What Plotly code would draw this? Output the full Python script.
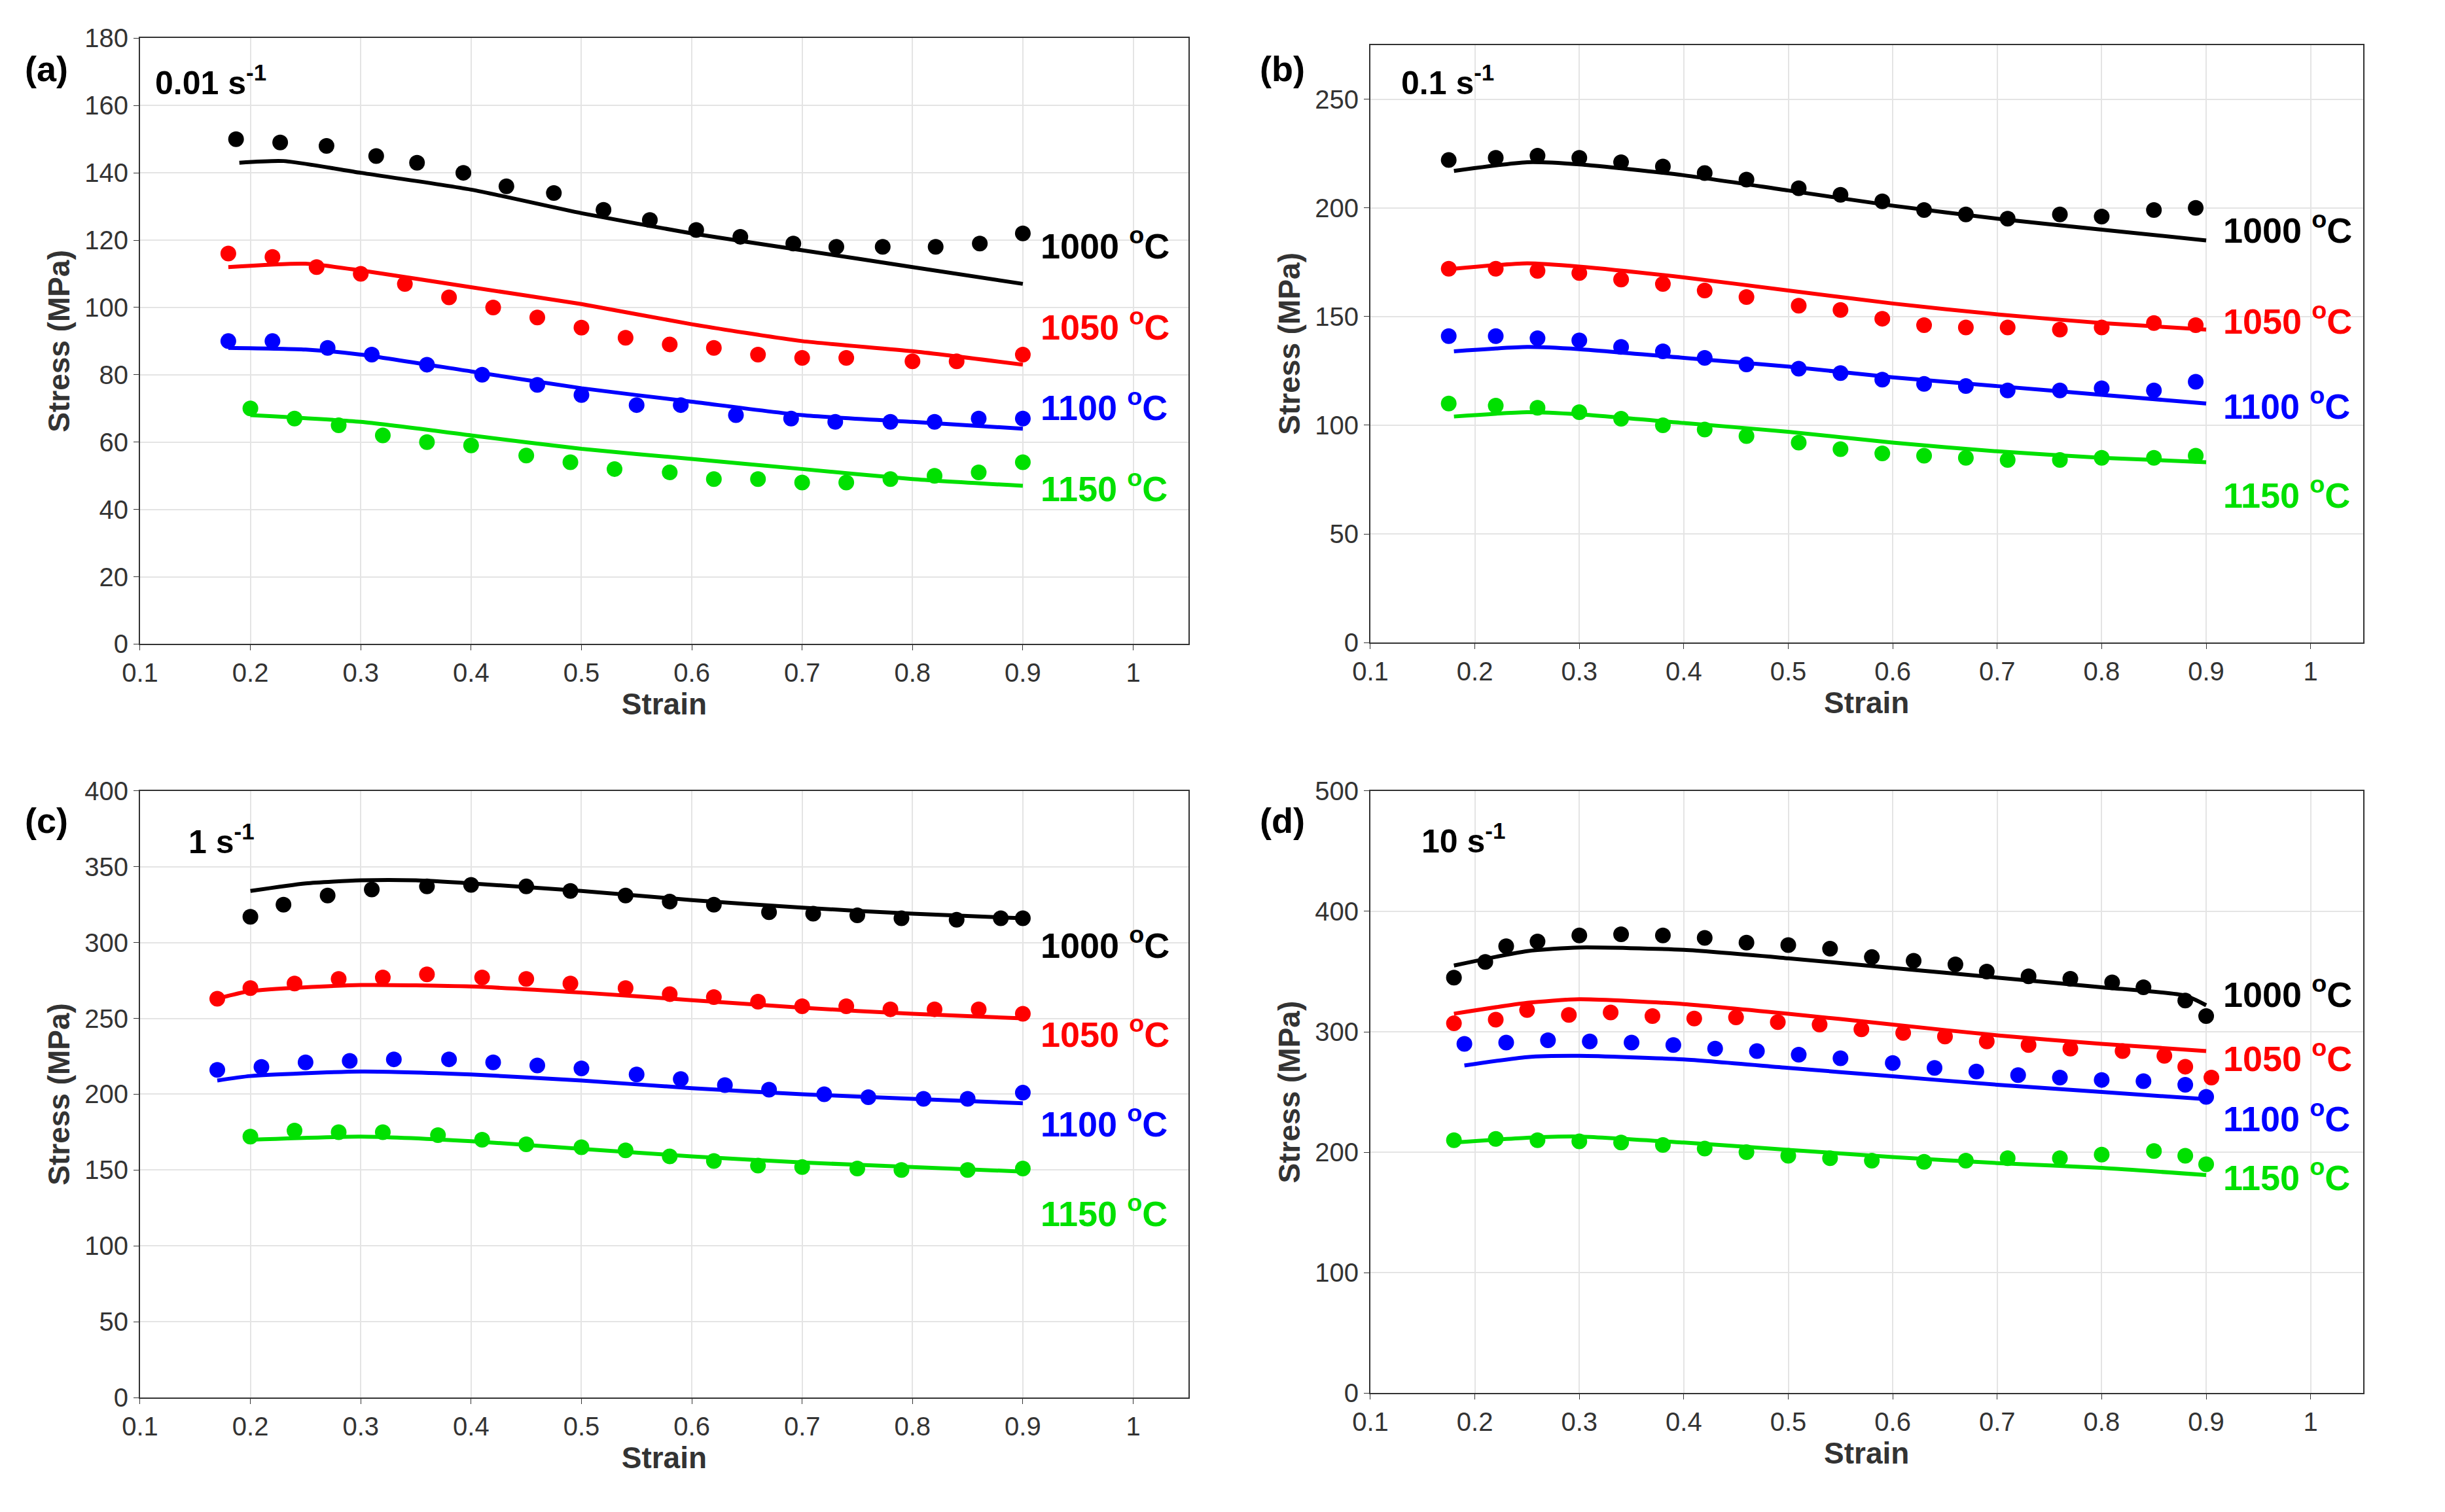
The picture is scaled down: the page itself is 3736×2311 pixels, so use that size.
import plotly.graph_objects as go

colors = {"1000": "black", "1050": "#ff0000", "1100": "#0000ff", "1150": "#00e000"}
temps = ["1000", "1050", "1100", "1150"]

# panel a (0.01 s^-1)
a_px = {"1000": [0.187,0.227,0.269,0.314,0.351,0.393,0.432,0.475,0.520,0.562,0.604,0.644,0.692,0.731,0.773,0.821,0.861,0.9],
        "1050": [0.18,0.22,0.26,0.3,0.34,0.38,0.42,0.46,0.5,0.54,0.58,0.62,0.66,0.7,0.74,0.8,0.84,0.9],
        "1100": [0.18,0.22,0.27,0.31,0.36,0.41,0.46,0.5,0.55,0.59,0.64,0.69,0.73,0.78,0.82,0.86,0.9],
        "1150": [0.2,0.24,0.28,0.32,0.36,0.4,0.45,0.49,0.53,0.58,0.62,0.66,0.7,0.74,0.78,0.82,0.86,0.9]}
a_py = {"1000": [150,149,148,145,143,140,136,134,129,126,123,121,119,118,118,118,119,122],
        "1050": [116,115,112,110,107,103,100,97,94,91,89,88,86,85,85,84,84,86],
        "1100": [90,90,88,86,83,80,77,74,71,71,68,67,66,66,66,67,67],
        "1150": [70,67,65,62,60,59,56,54,52,51,49,49,48,48,49,50,51,54]}
a_lx = {"1000": [0.19,0.23,0.3,0.4,0.5,0.6,0.7,0.8,0.9],
        "1050": [0.18,0.25,0.3,0.4,0.5,0.6,0.7,0.8,0.9],
        "1100": [0.18,0.25,0.3,0.4,0.5,0.6,0.7,0.8,0.9],
        "1150": [0.2,0.3,0.4,0.5,0.6,0.7,0.8,0.9]}
a_ly = {"1000": [143,143.5,140,135,128,122,117,112,107],
        "1050": [112,113,111,106,101,95,90,87,83],
        "1100": [88,87.5,86,81,76,72,68,66,64],
        "1150": [68,66,62,58,55,52,49,47]}

# panel b (0.1 s^-1)
b_x = [0.175,0.22,0.26,0.3,0.34,0.38,0.42,0.46,0.51,0.55,0.59,0.63,0.67,0.71,0.76,0.8,0.85,0.89]
b_px = {t: b_x for t in temps}
b_py = {"1000": [222,223,224,223,221,219,216,213,209,206,203,199,197,195,197,196,199,200],
        "1050": [172,172,171,170,167,165,162,159,155,153,149,146,145,145,144,145,147,146],
        "1100": [141,141,140,139,136,134,131,128,126,124,121,119,118,116,116,117,116,120],
        "1150": [110,109,108,106,103,100,98,95,92,89,87,86,85,84,84,85,85,86]}
b_lxs = [0.18,0.25,0.3,0.4,0.5,0.6,0.7,0.8,0.9]
b_lx = {t: b_lxs for t in temps}
b_ly = {"1000": [217,221,220,215,208,201,195,190,185],
        "1050": [172,174.5,173,168,162,156,151,147,144],
        "1100": [134,136,135,131,127,122,118,114,110],
        "1150": [104,106,105,101,97,92,88,85,83]}

# panel c (1 s^-1)
c_px = {"1000": [0.2,0.23,0.27,0.31,0.36,0.4,0.45,0.49,0.54,0.58,0.62,0.67,0.71,0.75,0.79,0.84,0.88,0.9],
        "1050": [0.17,0.2,0.24,0.28,0.32,0.36,0.41,0.45,0.49,0.54,0.58,0.62,0.66,0.7,0.74,0.78,0.82,0.86,0.9],
        "1100": [0.17,0.21,0.25,0.29,0.33,0.38,0.42,0.46,0.5,0.55,0.59,0.63,0.67,0.72,0.76,0.81,0.85,0.9],
        "1150": [0.2,0.24,0.28,0.32,0.37,0.41,0.45,0.5,0.54,0.58,0.62,0.66,0.7,0.75,0.79,0.85,0.9]}
c_py = {"1000": [317,325,331,335,337,338,337,334,331,327,325,320,319,318,316,315,316,316],
        "1050": [263,270,273,276,277,279,277,276,273,270,266,264,261,258,258,256,256,256,253],
        "1100": [216,218,221,222,223,223,221,219,217,213,210,206,203,200,198,197,197,201],
        "1150": [172,176,175,175,173,170,167,165,163,159,156,153,152,151,150,150,151]}
c_lx = {"1000": [0.2,0.25,0.3,0.35,0.4,0.5,0.6,0.7,0.8,0.9],
        "1050": [0.17,0.2,0.3,0.4,0.5,0.6,0.7,0.8,0.9],
        "1100": [0.17,0.2,0.3,0.4,0.5,0.6,0.7,0.8,0.9],
        "1150": [0.2,0.3,0.4,0.5,0.6,0.7,0.8,0.9]}
c_ly = {"1000": [334,339,341,341,339,334,328,323,319,316],
        "1050": [263,268,272,271,267,262,257,253,250],
        "1100": [209,212,215,213,209,204,200,197,194],
        "1150": [170,172,169,164,159,155,152,149]}

# panel d (10 s^-1)
d_px = {"1000": [0.18,0.21,0.23,0.26,0.3,0.34,0.38,0.42,0.46,0.5,0.54,0.58,0.62,0.66,0.69,0.73,0.77,0.81,0.84,0.88,0.9],
        "1050": [0.18,0.22,0.25,0.29,0.33,0.37,0.41,0.45,0.49,0.53,0.57,0.61,0.65,0.69,0.73,0.77,0.82,0.86,0.88,0.905],
        "1100": [0.19,0.23,0.27,0.31,0.35,0.39,0.43,0.47,0.51,0.55,0.6,0.64,0.68,0.72,0.76,0.8,0.84,0.88,0.9],
        "1150": [0.18,0.22,0.26,0.3,0.34,0.38,0.42,0.46,0.5,0.54,0.58,0.63,0.67,0.71,0.76,0.8,0.85,0.88,0.9]}
d_py = {"1000": [345,358,371,375,380,381,380,378,374,372,369,362,359,356,350,346,344,341,337,326,313],
        "1050": [307,310,318,314,316,313,311,312,308,306,302,299,296,292,289,286,284,280,271,262],
        "1100": [290,291,293,292,291,289,286,284,281,278,274,270,267,264,262,260,259,256,246],
        "1150": [210,211,210,209,208,206,203,200,197,195,193,192,193,195,195,198,201,197,190]}
d_lx = {"1000": [0.18,0.25,0.3,0.4,0.5,0.6,0.7,0.8,0.88,0.9],
        "1050": [0.18,0.25,0.3,0.4,0.5,0.6,0.7,0.8,0.9],
        "1100": [0.19,0.25,0.3,0.4,0.5,0.6,0.7,0.8,0.9],
        "1150": [0.18,0.25,0.3,0.4,0.5,0.6,0.7,0.8,0.9]}
d_ly = {"1000": [355,367,370,368,361,353,345,337,330,322],
        "1050": [315,324,327,323,315,306,297,290,284],
        "1100": [272,279,280,277,270,263,256,250,244],
        "1150": [208,212,213,208,202,196,191,187,181]}

panels = [
    dict(px=a_px, py=a_py, lx=a_lx, ly=a_ly, yr=[0,180], dt=20, lab="(a)", rate="0.01 s<sup>-1</sup>",
         ty=[119,95,71,47], dom=([0.048,0.480],[0.579,0.9875]), lp=(0.0,0.967), rp=(0.013,0.93)),
    dict(px=b_px, py=b_py, lx=b_lx, ly=b_ly, yr=[0,275], dt=50, lab="(b)", rate="0.1 s<sup>-1</sup>",
         ty=[191,149,110,69], dom=([0.555,0.964],[0.58,0.983]), lp=(0.509,0.967), rp=(0.03,0.94)),
    dict(px=c_px, py=c_py, lx=c_lx, ly=c_ly, yr=[0,400], dt=50, lab="(c)", rate="1 s<sup>-1</sup>",
         ty=[300,241,182,123], dom=([0.048,0.480],[0.071,0.480]), lp=(0.0,0.46), rp=(0.045,0.92)),
    dict(px=d_px, py=d_py, lx=d_lx, ly=d_ly, yr=[0,500], dt=100, lab="(d)", rate="10 s<sup>-1</sup>",
         ty=[333,280,230,181], dom=([0.555,0.964],[0.074,0.480]), lp=(0.509,0.46), rp=(0.05,0.92)),
]

fig = go.Figure()
FONT = "Liberation Sans, Arial"
ann = []
for i, p in enumerate(panels, start=1):
    xa = "x" if i == 1 else f"x{i}"
    ya = "y" if i == 1 else f"y{i}"
    for t in temps:
        fig.add_trace(go.Scatter(x=p["lx"][t], y=p["ly"][t], mode="lines",
                                 line=dict(color=colors[t], width=6, shape="spline", smoothing=0.6),
                                 xaxis=xa, yaxis=ya, showlegend=False))
        fig.add_trace(go.Scatter(x=p["px"][t], y=p["py"][t], mode="markers", marker=dict(color=colors[t], size=24),
                                 xaxis=xa, yaxis=ya, showlegend=False))
    for t, yv in zip(temps, p["ty"]):
        ann.append(dict(x=0.915, y=yv, xref=xa, yref=ya, text=f"{t} <sup>o</sup>C", showarrow=False,
                        xanchor="left", yanchor="middle", font=dict(family=FONT, size=54, color=colors[t], weight="bold")))
    ann.append(dict(x=p["rp"][0], y=p["rp"][1], xref=f"{xa} domain", yref=f"{ya} domain", text=p["rate"], showarrow=False,
                    xanchor="left", yanchor="middle", font=dict(family=FONT, size=50, color="black", weight="bold")))
    ann.append(dict(x=p["lp"][0], y=p["lp"][1], xref="paper", yref="paper", text=p["lab"], showarrow=False,
                    xanchor="left", yanchor="middle", font=dict(family=FONT, size=54, color="black", weight="bold")))
    axkw = dict(showgrid=True, gridcolor="#e4e4e4", gridwidth=2, showline=True, linecolor="#333", linewidth=2,
                mirror=True, ticks="outside", ticklen=8, tickcolor="#333",
                tickfont=dict(family=FONT, size=40, color="#333"), zeroline=False)
    fig.update_layout(**{
        ("xaxis" if i == 1 else f"xaxis{i}"): dict(domain=p["dom"][0], range=[0.1, 1.05],
            anchor=ya, title=dict(text="<b>Strain</b>", font=dict(family=FONT, size=46, color="#333"), standoff=10),
            tickvals=[0.1,0.2,0.3,0.4,0.5,0.6,0.7,0.8,0.9,1.0], ticktext=["0.1","0.2","0.3","0.4","0.5","0.6","0.7","0.8","0.9","1"], **axkw),
        ("yaxis" if i == 1 else f"yaxis{i}"): dict(domain=p["dom"][1], range=p["yr"], dtick=p["dt"], anchor=xa,
            title=dict(text="<b>Stress (MPa)</b>", font=dict(family=FONT, size=46, color="#333"), standoff=8), **axkw),
    })

fig.update_layout(width=3736, height=2311, paper_bgcolor="white", plot_bgcolor="white",
                  margin=dict(l=0, r=0, t=0, b=0), annotations=ann)
fig.write_html("out.html")
